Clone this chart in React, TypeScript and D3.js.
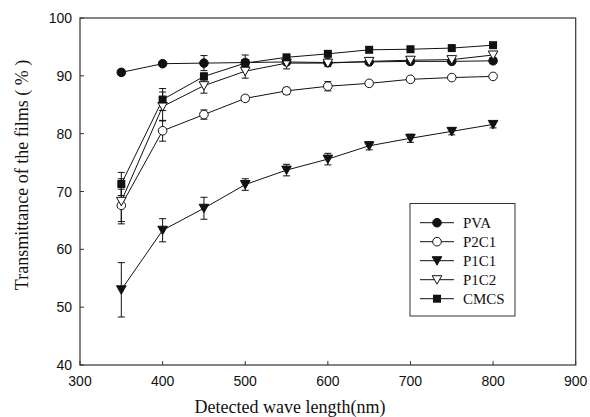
import React from 'react'
import * as d3 from 'd3'

const wavelengths = [350, 400, 450, 500, 550, 600, 650, 700, 750, 800]
const pva = [90.6, 92.1, 92.2, 92.3, 92.4, 92.3, 92.4, 92.5, 92.5, 92.6]
const pvaErr = [0.5, 0.4, 1.3, 1.3, 0.5, 0.4, 0.4, 0.4, 0.4, 0.4]
const p2c1 = [67.6, 80.5, 83.3, 86.1, 87.4, 88.2, 88.7, 89.4, 89.7, 89.9]
const p2c1Err = [2.8, 1.8, 0.8, 0.5, 0.6, 0.8, 0.4, 0.4, 0.3, 0.3]
const p1c1 = [53.0, 63.3, 67.1, 71.2, 73.7, 75.6, 77.9, 79.2, 80.4, 81.6]
const p1c1Err = [4.7, 2.0, 1.9, 1.0, 1.0, 1.0, 0.7, 0.7, 0.6, 0.6]
const p1c2 = [68.3, 84.7, 88.3, 90.8, 92.2, 92.2, 92.5, 92.7, 92.8, 93.6]
const p1c2Err = [3.9, 2.5, 1.3, 1.2, 1.0, 0.6, 0.5, 0.5, 0.4, 0.5]
const cmcs = [71.3, 85.9, 89.9, 92.2, 93.2, 93.8, 94.5, 94.6, 94.8, 95.3]
const cmcsErr = [2.0, 1.9, 0.6, 0.5, 0.4, 0.4, 0.4, 0.3, 0.3, 0.3]

const xTicks = [300, 400, 500, 600, 700, 800, 900]
const yTicks = [40, 50, 60, 70, 80, 90, 100]

type Marker = 'circleFill' | 'circleOpen' | 'triFill' | 'triOpen' | 'square'

const series: { name: string; values: number[]; errs: number[]; marker: Marker }[] = [
  { name: 'PVA', values: pva, errs: pvaErr, marker: 'circleFill' },
  { name: 'P2C1', values: p2c1, errs: p2c1Err, marker: 'circleOpen' },
  { name: 'P1C1', values: p1c1, errs: p1c1Err, marker: 'triFill' },
  { name: 'P1C2', values: p1c2, errs: p1c2Err, marker: 'triOpen' },
  { name: 'CMCS', values: cmcs, errs: cmcsErr, marker: 'square' },
]

const left = 80
const right = 575.7
const top = 18
const bottom = 365
const serif = 'Liberation Serif, Times New Roman, serif'
const sans = 'Liberation Sans, Arial, sans-serif'

const x = d3.scaleLinear().domain([300, 900]).range([left, right])
const y = d3.scaleLinear().domain([40, 100]).range([bottom, top])

const line = d3
  .line<number>()
  .x((_, i) => x(wavelengths[i]))
  .y((d) => y(d))

const MarkerShape = ({ kind, cx, cy }: { kind: Marker; cx: number; cy: number }) => {
  if (kind === 'circleFill') return <circle cx={cx} cy={cy} r={4.3} fill="#111" stroke="#111" />
  if (kind === 'circleOpen') return <circle cx={cx} cy={cy} r={4.3} fill="#fff" stroke="#111" />
  if (kind === 'square') return <rect x={cx - 4} y={cy - 4} width={8} height={8} fill="#111" />
  const pts = `${cx - 4.8},${cy - 4} ${cx + 4.8},${cy - 4} ${cx},${cy + 4.5}`
  return (
    <polygon points={pts} fill={kind === 'triFill' ? '#111' : '#fff'} stroke="#111" strokeWidth={1} />
  )
}

export default function App() {
  return (
    <svg width={590} height={417} style={{ position: 'absolute', left: 0, top: 0, background: '#fff' }}>
      {/* frame */}
      <rect x={left} y={top} width={right - left} height={bottom - top} fill="none" stroke="#333" strokeWidth={1.2} />

      {/* x ticks */}
      {xTicks.map((t) => (
        <g key={'x' + t}>
          <line x1={x(t)} x2={x(t)} y1={bottom} y2={bottom - 4} stroke="#333" />
          <text x={x(t)} y={386} textAnchor="middle" fontFamily={sans} fontSize={14} fill="#111">
            {t}
          </text>
        </g>
      ))}
      {/* y ticks */}
      {yTicks.map((t) => (
        <g key={'y' + t}>
          <line x1={left} x2={left + 4} y1={y(t)} y2={y(t)} stroke="#333" />
          <text x={72} y={y(t) + 5} textAnchor="end" fontFamily={sans} fontSize={14} fill="#111">
            {t}
          </text>
        </g>
      ))}

      <text x={290} y={413} textAnchor="middle" fontFamily={serif} fontSize={18} fill="#111">
        Detected wave length(nm)
      </text>
      <text
        transform={`translate(28, 175) rotate(-90)`}
        textAnchor="middle"
        fontFamily={serif}
        fontSize={18}
        fill="#111"
      >
        Transmittance of the films ( % )
      </text>

      {/* error bars */}
      {series.map((s) =>
        s.values.map((v, i) => {
          const cx = x(wavelengths[i])
          const y1 = y(v + s.errs[i])
          const y2 = y(v - s.errs[i])
          return (
            <g key={s.name + 'e' + i} stroke="#111" strokeWidth={1}>
              <line x1={cx} x2={cx} y1={y1} y2={y2} />
              <line x1={cx - 3.5} x2={cx + 3.5} y1={y1} y2={y1} />
              <line x1={cx - 3.5} x2={cx + 3.5} y1={y2} y2={y2} />
            </g>
          )
        })
      )}

      {/* lines */}
      {series.map((s) => (
        <path key={s.name + 'l'} d={line(s.values) || ''} fill="none" stroke="#111" strokeWidth={1} />
      ))}

      {/* markers */}
      {series.map((s) =>
        s.values.map((v, i) => (
          <MarkerShape key={s.name + 'm' + i} kind={s.marker} cx={x(wavelengths[i])} cy={y(v)} />
        ))
      )}

      {/* legend */}
      <rect x={410} y={203.5} width={105} height={112.5} fill="#fff" stroke="#333" strokeWidth={1} />
      {series.map((s, i) => {
        const ly = 222.7 + i * 19
        return (
          <g key={s.name + 'lg'}>
            <line x1={420} x2={454} y1={ly} y2={ly} stroke="#111" />
            <MarkerShape kind={s.marker} cx={437} cy={ly} />
            <text x={463} y={ly + 5} fontFamily={serif} fontSize={15} fill="#111">
              {s.name}
            </text>
          </g>
        )
      })}
    </svg>
  )
}
